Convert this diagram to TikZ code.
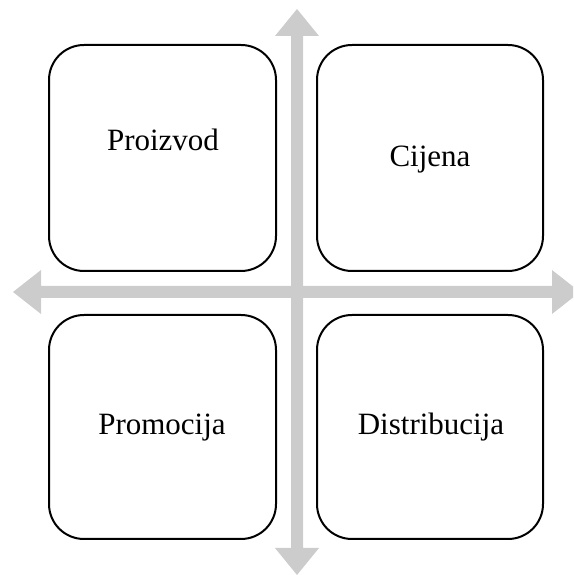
\documentclass[tikz,border=0pt]{standalone}
\usepackage{fontspec}
\setmainfont{Liberation Serif}
\begin{document}
\begin{tikzpicture}[x=1pt,y=1pt,
  quad/.style={draw=black, line width=2pt, rounded corners=35pt, inner sep=0pt},
  lbl/.style={anchor=base, inner sep=0pt, font=\fontsize{31}{36}\selectfont},
  axisarrow/.style={fill=axisgrey, draw=none}]
\definecolor{axisgrey}{RGB}{204,204,204}
\useasboundingbox (0,0) rectangle (573,575);
\clip (0,0) rectangle (573,575);
% vertical double arrow
\fill[axisgrey] (291,27) -- (275,27) -- (297,0) -- (319,27) -- (303,27) -- (303,539) -- (319,539) -- (297,566) -- (275,539) -- (291,539) -- cycle;
% horizontal double arrow
\fill[axisgrey] (41,289) -- (41,305) -- (13,283) -- (41,261) -- (41,277) -- (552,277) -- (552,261) -- (580,283) -- (552,305) -- (552,289) -- cycle;
% boxes
\node[quad, minimum width=227pt, minimum height=226pt] (tl) at (162.5,417) {};
\node[quad, minimum width=226pt, minimum height=226pt] (tr) at (430,417) {};
\node[quad, minimum width=227pt, minimum height=224pt] (bl) at (162.5,148) {};
\node[quad, minimum width=226pt, minimum height=224pt] (br) at (430,148) {};
% labels
\node[lbl] (tlt) at (163,424) {Proizvod};
\node[lbl] (trt) at (430,408) {Cijena};
\node[lbl] (blt) at (162,140) {Promocija};
\node[lbl] (brt) at (431,140) {Distribucija};
\end{tikzpicture}
\end{document}
